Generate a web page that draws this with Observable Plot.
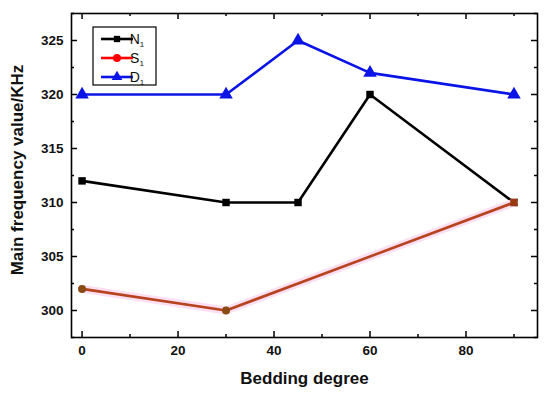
<!DOCTYPE html>
<html>
<head>
<meta charset="utf-8">
<script src="https://cdn.jsdelivr.net/npm/d3@7"></script>
<script src="https://cdn.jsdelivr.net/npm/@observablehq/plot@0.6"></script>
<style>
  html, body { margin: 0; padding: 0; background: #fff; }
  svg { font-family: "Liberation Sans", Arial, sans-serif; }
</style>
</head>
<body>
<div id="chart"></div>
<script>
const degreesN = [0, 30, 45, 60, 90];
const valuesN = [312, 310, 310, 320, 310];
const degreesS = [0, 30, 90];
const valuesS = [302, 300, 310];
const degreesD = [0, 30, 45, 60, 90];
const valuesD = [320, 320, 325, 322, 320];
const xTicks = [0, 20, 40, 60, 80];
const xMinor = [10, 30, 50, 70, 90];
const yTicks = [300, 305, 310, 315, 320, 325];
const yMinor = [297.5, 302.5, 307.5, 312.5, 317.5, 322.5, 327.5];
const xTitle = "Bedding degree";
const yTitle = "Main frequency value/KHz";

const N = degreesN.map((x, i) => ({x, y: valuesN[i]}));
const S = degreesS.map((x, i) => ({x, y: valuesS[i]}));
const D = degreesD.map((x, i) => ({x, y: valuesD[i]}));

const W = 550, H = 393, mL = 71, mT = 13, mR = 13, mB = 56;
const iw = W - mL - mR, ih = H - mT - mB;
const major = 6, minor = 3;

const plot = Plot.plot({
  width: W, height: H,
  marginLeft: mL, marginTop: mT, marginRight: mR, marginBottom: mB,
  x: {domain: [-2.2, 94.9]},
  y: {domain: [297.5, 327.5]},
  style: {fontFamily: "Liberation Sans, Arial, sans-serif", background: "#fff"},
  marks: [
    Plot.axisX(xTicks, {tickSize: 0, tickPadding: 8, fontSize: 13.5, fontWeight: "bold", fill: "#111", label: null}),
    Plot.axisY(yTicks, {tickSize: 0, tickPadding: 8, fontSize: 13.5, fontWeight: "bold", fill: "#111", label: null}),
    // inward ticks on all four sides
    Plot.tickX(xTicks, {x: d => d, insetTop: ih - major, strokeWidth: 1.5}),
    Plot.tickX(xMinor, {x: d => d, insetTop: ih - minor, strokeWidth: 1.5}),
    Plot.tickX(xTicks, {x: d => d, insetBottom: ih - major, strokeWidth: 1.5}),
    Plot.tickX(xMinor, {x: d => d, insetBottom: ih - minor, strokeWidth: 1.5}),
    Plot.tickY(yTicks, {y: d => d, insetRight: iw - major, strokeWidth: 1.5}),
    Plot.tickY(yMinor, {y: d => d, insetRight: iw - minor, strokeWidth: 1.5}),
    Plot.tickY(yTicks, {y: d => d, insetLeft: iw - major, strokeWidth: 1.5}),
    Plot.tickY(yMinor, {y: d => d, insetLeft: iw - minor, strokeWidth: 1.5}),
    Plot.frame({stroke: "#000", strokeWidth: 1.6}),
    // series
    Plot.line(D, {x: "x", y: "y", stroke: "#0a14e6", strokeWidth: 2.6}),
    Plot.dot(D, {x: "x", y: "y", symbol: "triangle", r: 5, fill: "#0a14e6", stroke: "none"}),
    Plot.line(N, {x: "x", y: "y", stroke: "#000", strokeWidth: 2.6}),
    Plot.dot(N, {x: "x", y: "y", symbol: "square", r: 4.2, fill: "#000", stroke: "none"}),
    Plot.line(S, {x: "x", y: "y", stroke: "#fbd9f1", strokeWidth: 8, strokeOpacity: 0.85}),
    Plot.line(S, {x: "x", y: "y", stroke: "#b8431f", strokeWidth: 2.6}),
    Plot.dot(S.slice(0, 2), {x: "x", y: "y", symbol: "circle", r: 4, fill: "#8a4a14", stroke: "none"}),
    Plot.dot(S.slice(2), {x: "x", y: "y", symbol: "square", r: 4.2, fill: "#9a3a12", stroke: "none"}),
    // x axis title
    Plot.text([xTitle], {frameAnchor: "bottom", dy: 41, text: d => d, fontSize: 17, fontWeight: "bold", fill: "#111", lineAnchor: "middle"})
  ]
});

const svg = d3.select(plot);
// y axis title
svg.append("text")
  .attr("transform", "translate(19,170) rotate(-90)")
  .attr("text-anchor", "middle").attr("dominant-baseline", "middle")
  .attr("font-size", 17).attr("font-weight", "bold").attr("fill", "#111")
  .text(yTitle);

// legend
const lg = svg.append("g").attr("font-family", "Liberation Sans, Arial, sans-serif");
lg.append("rect").attr("x", 93).attr("y", 27).attr("width", 63).attr("height", 58)
  .attr("fill", "#fff").attr("stroke", "#000").attr("stroke-width", 1.2);
const legendItems = [
  {name: "N", color: "#000", sym: d3.symbolSquare, size: 40},
  {name: "S", color: "#f00", sym: d3.symbolCircle, size: 50},
  {name: "D", color: "#0a14e6", sym: d3.symbolTriangle, size: 50}
];
legendItems.forEach((it, i) => {
  const y = 39 + i * 19;
  lg.append("line").attr("x1", 101).attr("x2", 133).attr("y1", y).attr("y2", y)
    .attr("stroke", it.color).attr("stroke-width", 2.6);
  lg.append("path").attr("d", d3.symbol(it.sym, it.size)()).attr("transform", `translate(117,${y})`)
    .attr("fill", it.color);
  const t = lg.append("text").attr("x", 137).attr("y", y + 5).attr("font-size", 14).attr("fill", "#111");
  t.append("tspan").text(it.name);
  t.append("tspan").attr("font-size", 8).attr("dy", 3).text("1");
});

document.getElementById("chart").appendChild(plot);
</script>
</body>
</html>
